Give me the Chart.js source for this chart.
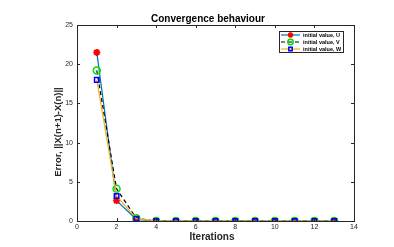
<!DOCTYPE html>
<html>
<head>
<meta charset="utf-8">
<script src="https://cdn.jsdelivr.net/npm/chart.js@4.4.1/dist/chart.umd.min.js"></script>
<style>
  html, body { margin: 0; padding: 0; background: #fff; }
  #wrap { width: 394px; height: 247px; }
</style>
</head>
<body>
<div id="wrap"><canvas id="chart1"></canvas></div>
<script>
const iterations = [1, 2, 3, 4, 5, 6, 7, 8, 9, 10, 11, 12, 13];
const errU = [21.5, 2.6, 0.2, 0, 0, 0, 0, 0, 0, 0, 0, 0, 0];
const errV = [19.2, 4.1, 0.35, 0, 0, 0, 0, 0, 0, 0, 0, 0, 0];
const errW = [18.0, 3.2, 0.3, 0, 0, 0, 0, 0, 0, 0, 0, 0, 0];
const seriesNames = ['initial value, U', 'initial value, V', 'initial value, W'];
const chartTitle = 'Convergence behaviour';
const xTitle = 'Iterations';
const yTitle = 'Error, ||X(n+1)-X(n)||';

const ink = '#262626';
const font = 'Liberation Sans, Arial, sans-serif';

function points(vals) {
  return iterations.map((it, i) => ({ x: it, y: vals[i] }));
}

// box, inward ticks, titles and legend, the MATLAB way
const matlabFrame = {
  id: 'matlabFrame',
  afterDraw(chart) {
    const ctx = chart.ctx;
    const a = chart.chartArea;
    const xs = chart.scales.x, ys = chart.scales.y;
    ctx.save();
    ctx.strokeStyle = ink;
    ctx.lineWidth = 1;
    ctx.strokeRect(Math.round(a.left) + 0.5, Math.round(a.top) + 0.5,
      Math.round(a.right - a.left), Math.round(a.bottom - a.top));
    ctx.beginPath();
    xs.ticks.forEach(t => {
      const px = Math.round(xs.getPixelForValue(t.value)) + 0.5;
      ctx.moveTo(px, a.bottom); ctx.lineTo(px, a.bottom - 3);
      ctx.moveTo(px, a.top); ctx.lineTo(px, a.top + 3);
    });
    ys.ticks.forEach(t => {
      const py = Math.round(ys.getPixelForValue(t.value)) + 0.5;
      ctx.moveTo(a.left, py); ctx.lineTo(a.left + 3, py);
      ctx.moveTo(a.right, py); ctx.lineTo(a.right - 3, py);
    });
    ctx.stroke();

    ctx.fillStyle = '#000';
    ctx.textAlign = 'center';
    ctx.textBaseline = 'middle';
    ctx.font = 'bold 10px ' + font;
    ctx.fillText(chartTitle, 208, 19);
    ctx.fillStyle = ink;
    ctx.fillText(xTitle, 212, 237);
    ctx.save();
    ctx.translate(58, 132);
    ctx.rotate(-Math.PI / 2);
    ctx.font = 'bold 9.5px ' + font;
    ctx.fillText(yTitle, 0, 0);
    ctx.restore();

    // legend
    const bx = 279, by = 31, bw = 64, bh = 21;
    ctx.fillStyle = '#fff';
    ctx.fillRect(bx, by, bw, bh);
    ctx.strokeStyle = ink;
    ctx.lineWidth = 1;
    ctx.strokeRect(bx + 0.5, by + 0.5, bw, bh);
    chart.data.datasets.forEach((ds, i) => {
      const ly = by + 4 + i * 7;
      ctx.save();
      ctx.strokeStyle = ds.borderColor;
      ctx.lineWidth = ds.borderWidth;
      ctx.setLineDash(ds.borderDash || []);
      ctx.beginPath();
      ctx.moveTo(bx + 2, ly); ctx.lineTo(bx + 21, ly);
      ctx.stroke();
      ctx.restore();
      ctx.save();
      ctx.fillStyle = ds.pointBackgroundColor;
      ctx.strokeStyle = ds.pointBorderColor;
      ctx.lineWidth = ds.pointBorderWidth;
      Chart.helpers.drawPoint(ctx, {
        pointStyle: ds.pointStyle, radius: ds.pointRadius - 0.8,
        borderWidth: ds.pointBorderWidth
      }, bx + 11.5, ly);
      ctx.restore();
      ctx.fillStyle = '#000';
      ctx.textAlign = 'left';
      ctx.font = 'bold 5.5px ' + font;
      ctx.fillText(seriesNames[i], bx + 24, ly + 0.5);
    });
    ctx.restore();
  }
};

new Chart(document.getElementById('chart1'), {
  type: 'line',
  data: {
    datasets: [{
      label: seriesNames[0],
      data: points(errU),
      borderColor: '#0072BD',
      borderWidth: 1.2,
      pointStyle: 'star',
      pointRadius: 3.5,
      pointBorderWidth: 2,
      pointBorderColor: '#ff0000',
      pointBackgroundColor: '#ff0000',
      order: 2
    }, {
      label: seriesNames[1],
      data: points(errV),
      borderColor: '#000000',
      borderWidth: 1.2,
      borderDash: [4, 3],
      pointStyle: 'circle',
      pointRadius: 3.5,
      pointBorderWidth: 1.5,
      pointBorderColor: '#00e000',
      pointBackgroundColor: 'rgba(0,0,0,0)',
      order: 1
    }, {
      label: seriesNames[2],
      data: points(errW),
      borderColor: '#EDB120',
      borderWidth: 1.2,
      pointStyle: 'rect',
      pointRadius: 3.2,
      pointBorderWidth: 1.5,
      pointBorderColor: '#0000ff',
      pointBackgroundColor: 'rgba(0,0,0,0)',
      order: 0
    }]
  },
  options: {
    responsive: true,
    maintainAspectRatio: false,
    animation: false,
    layout: { padding: { left: 0, right: 40, top: 25, bottom: 0 } },
    plugins: {
      legend: { display: false },
      title: { display: false },
      tooltip: { enabled: false }
    },
    scales: {
      x: {
        type: 'linear',
        min: 0, max: 14,
        grid: { display: false, drawTicks: false, tickLength: 0 },
        border: { display: false },
        ticks: { stepSize: 2, color: ink, font: { family: font, size: 7 }, padding: 2, maxRotation: 0 },
        afterFit(scale) { scale.height = 26; }
      },
      y: {
        min: 0, max: 25,
        grid: { display: false, drawTicks: false, tickLength: 0 },
        border: { display: false },
        ticks: { stepSize: 5, color: ink, font: { family: font, size: 7 }, padding: 4 },
        afterFit(scale) { scale.width = 77; }
      }
    }
  },
  plugins: [matlabFrame]
});
</script>
</body>
</html>
